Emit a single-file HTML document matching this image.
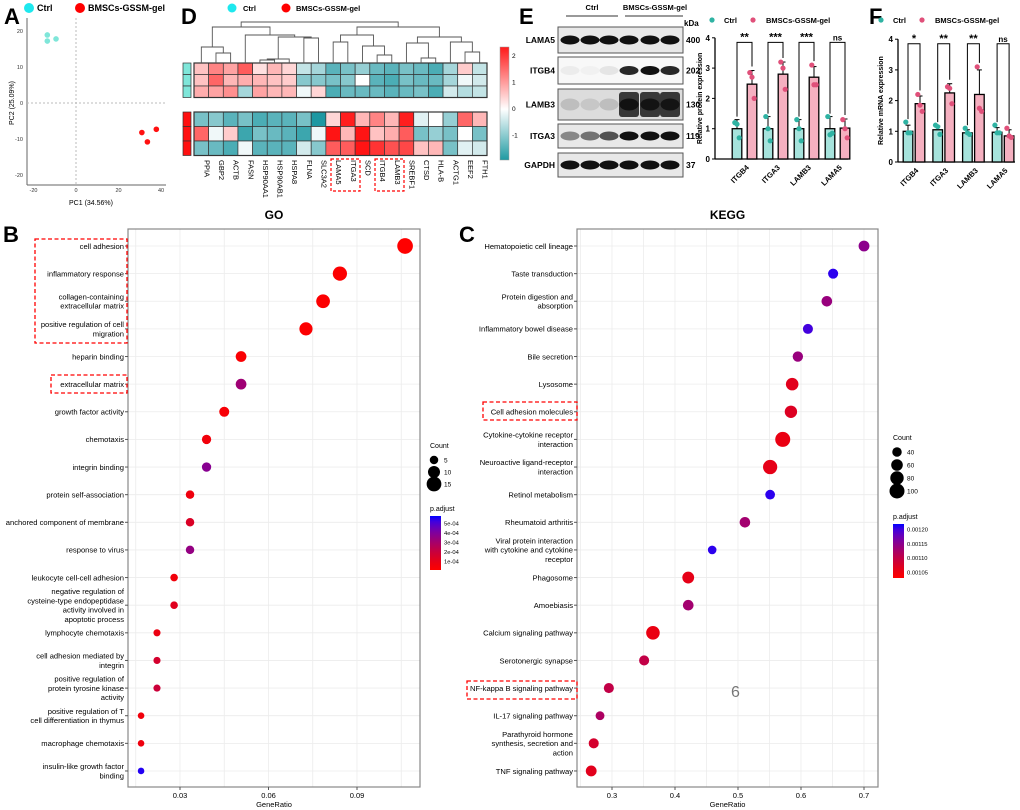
<!DOCTYPE html>
<html><head><meta charset="utf-8"><style>
body{margin:0;background:#fff;}
svg{display:block;font-family:"Liberation Sans",Arial,sans-serif;}
</style></head><body>
<svg id="fig" width="1020" height="810" viewBox="0 0 1020 810"></svg>
<script>
// ---------- DATA ----------
const pcaCtrlX=[-13.5,-13.5,-9.4];
const pcaCtrlY=[18.9,17.2,17.8];
const pcaGelX=[31,33.6,37.8];
const pcaGelY=[-8.2,-10.8,-7.3];
const pcaXTicks=[-20,0,20,40];
const pcaYTicks=[20,10,0,-10,-20];
const heatGenes=["PPIA","GBP2","ACTB","FASN","HSP90AA1","HSP90AB1","HSPA8","FLNA","SLC3A2","LAMA5","ITGA3","SCD","ITGB4","LAMB3","SREBF1","CTSD","HLA-B","ACTG1","EEF2","FTH1"];
const heatCtrl1=[0.6,1.2,0.9,1.6,0.3,0.7,0.4,-0.4,-0.6,-1.1,-0.9,-0.7,-1.0,-1.1,-0.9,-1.0,-1.2,-0.6,0.5,-0.4];
const heatCtrl2=[0.6,1.5,0.7,0.8,0.7,0.6,0.5,-0.8,-0.8,-0.9,-0.8,0.0,-1.1,-1.2,-0.9,-1.0,-1.0,-0.6,-0.1,-0.3];
const heatCtrl3=[0.8,0.9,1.1,-0.6,0.9,0.7,0.7,-0.1,0.4,-1.2,-1.0,-1.0,-1.0,-1.1,-1.0,-0.9,-1.2,-0.3,-0.5,-0.4];
const heatGel1=[-0.9,-0.8,-1.1,-0.9,-1.2,-1.1,-1.1,-0.9,-1.5,0.4,2.2,0.7,1.2,0.7,2.2,-0.2,0.0,-0.7,1.5,0.7];
const heatGel2=[1.5,-0.1,0.5,-1.3,-0.9,-1.0,-1.1,-1.3,-0.1,2.3,0.7,2.4,0.6,0.8,1.6,-0.9,-0.7,-0.9,0.0,-0.9];
const heatGel3=[-0.9,-1.0,-1.2,-0.1,-1.1,-1.1,-1.1,-0.3,-0.8,1.6,1.6,2.3,2.0,1.7,1.8,0.6,0.7,-0.9,-0.2,-0.3];
const heatScaleTicks=[2,1,0,-1];
const protCats=["ITGB4","ITGA3","LAMB3","LAMA5"];
const protCtrlMean=[1.0,1.0,1.0,1.0];
const protCtrlErr=[0.3,0.4,0.3,0.4];
const protGelMean=[2.47,2.8,2.7,1.02];
const protGelErr=[0.45,0.4,0.35,0.3];
const protCtrlPts=[[1.2,1.15,0.7],[1.4,1.0,0.6],[1.3,1.0,0.6],[1.4,0.8,0.85]];
const protGelPts=[[2.85,2.7,2.0],[3.2,3.0,2.3],[3.1,2.45,2.45],[1.3,1.0,0.7]];
const protSig=["**","***","***","ns"];
const barYTicks=[0,1,2,3,4];
const blotNames=["LAMA5","ITGB4","LAMB3","ITGA3","GAPDH"];
const blotKDa=["400","202","130","119","37"];
const mrnaCats=["ITGB4","ITGA3","LAMB3","LAMA5"];
const mrnaCtrlMean=[1.0,1.05,0.95,0.97];
const mrnaCtrlErr=[0.2,0.12,0.1,0.15];
const mrnaGelMean=[1.9,2.25,2.2,0.85];
const mrnaGelErr=[0.25,0.3,0.8,0.2];
const mrnaCtrlPts=[[1.3,0.95,0.95],[1.2,1.15,0.9],[1.1,0.95,0.9],[1.2,0.95,0.95]];
const mrnaGelPts=[[2.2,1.85,1.65],[2.45,2.4,1.9],[3.1,1.75,1.65],[1.1,0.85,0.8]];
const mrnaSig=["*","**","**","ns"];
const goTerms=[["cell adhesion"],["inflammatory response"],["collagen-containing","extracellular matrix"],["positive regulation of cell","migration"],["heparin binding"],["extracellular matrix"],["growth factor activity"],["chemotaxis"],["integrin binding"],["protein self-association"],["anchored component of membrane"],["response to virus"],["leukocyte cell-cell adhesion"],["negative regulation of","cysteine-type endopeptidase","activity involved in","apoptotic process"],["lymphocyte chemotaxis"],["cell adhesion mediated by","integrin"],["positive regulation of","protein tyrosine kinase","activity"],["positive regulation of T","cell differentiation in thymus"],["macrophage chemotaxis"],["insulin-like growth factor","binding"]];
const goRatio=[0.1063,0.0842,0.0785,0.0727,0.0507,0.0507,0.045,0.039,0.039,0.0334,0.0334,0.0334,0.028,0.028,0.0222,0.0222,0.0222,0.0168,0.0168,0.0168];
const goCount=[17,14,13,12,8,8,7,6,6,5,5,5,4,4,3.5,3.5,3.5,3,3,3];
const goPadj=[0.00001,0.00002,0.00002,0.00002,0.00003,0.00032,0.00004,0.00006,0.00038,0.00007,0.00014,0.00035,0.00006,0.00012,0.00008,0.00016,0.00019,0.00006,0.00007,0.00056];
const goXTicks=[0.03,0.06,0.09];
const goSizeLegend=[5,10,15];
const goColorTicks=[0.0005,0.0004,0.0003,0.0002,0.0001];
const goColorLabels=["5e-04","4e-04","3e-04","2e-04","1e-04"];
const keggTerms=[["Hematopoietic cell lineage"],["Taste transduction"],["Protein digestion and","absorption"],["Inflammatory bowel disease"],["Bile secretion"],["Lysosome"],["Cell adhesion molecules"],["Cytokine-cytokine receptor","interaction"],["Neuroactive ligand-receptor","interaction"],["Retinol metabolism"],["Rheumatoid arthritis"],["Viral protein interaction","with cytokine and cytokine","receptor"],["Phagosome"],["Amoebiasis"],["Calcium signaling pathway"],["Serotonergic synapse"],["NF-kappa B signaling pathway"],["IL-17 signaling pathway"],["Parathyroid hormone","synthesis, secretion and","action"],["TNF signaling pathway"]];
const keggRatio=[0.70,0.651,0.641,0.611,0.595,0.586,0.584,0.571,0.551,0.551,0.511,0.459,0.421,0.421,0.365,0.351,0.295,0.281,0.271,0.267];
const keggCount=[52,45,50,45,48,70,68,100,90,42,50,33,62,50,82,45,45,35,45,52];
const keggPadj=[0.001150,0.001210,0.001140,0.001200,0.001140,0.001065,0.001070,0.001055,0.001060,0.001210,0.001130,0.001210,0.001060,0.001130,0.001055,0.001100,0.001100,0.001120,0.001080,0.001065];
const keggXTicks=[0.3,0.4,0.5,0.6,0.7];
const keggSizeLegend=[40,60,80,100];
const keggColorTicks=[0.00120,0.00115,0.00110,0.00105];
const keggColorLabels=["0.00120","0.00115","0.00110","0.00105"];

// ---------- HELPERS ----------
const svg=document.getElementById('fig');
const NS='http://www.w3.org/2000/svg';
function mk(tag,attrs,parent,txt){const e=document.createElementNS(NS,tag);for(const k in attrs)e.setAttribute(k,attrs[k]);if(txt!==undefined)e.textContent=txt;(parent||svg).appendChild(e);return e;}
function grp(name){const g=mk('g',{});return g;}
function lin(a,b,t){return a+(b-a)*t;}
function padjColor(t){t=Math.max(0,Math.min(1,t));const r=Math.round(255*Math.pow(1-t,0.6)),b=Math.round(255*Math.pow(t,1.3));return `rgb(${r},0,${b})`;}

// ---------- PANEL LABELS ----------
[["A",4,24],["D",181,24],["E",519,24],["F",869,24],["B",3,242],["C",459,242]].forEach(p=>{const t=mk('text',{x:p[1],y:p[2],'font-size':22,'font-weight':'bold'},svg,p[0]);});

// ---------- PANEL A ----------
(function(){
const g=grp('pca-plot');
const xs=v=>76+v*(161-76)/40, ys=v=>103-v*3.6;
mk('line',{x1:27,y1:18,x2:27,y2:185,stroke:'#666','stroke-width':1},g);
mk('line',{x1:27,y1:185,x2:166,y2:185,stroke:'#666','stroke-width':1},g);
mk('line',{x1:xs(0),y1:18,x2:xs(0),y2:185,stroke:'#bbb','stroke-dasharray':'2,2'},g);
mk('line',{x1:27,y1:ys(0),x2:166,y2:ys(0),stroke:'#bbb','stroke-dasharray':'2,2'},g);
pcaYTicks.forEach(v=>{mk('text',{x:23,y:ys(v)+2,'font-size':5.5,'text-anchor':'end',fill:'#333'},g,v);});
pcaXTicks.forEach(v=>{mk('text',{x:xs(v),y:192,'font-size':5.5,'text-anchor':'middle',fill:'#333'},g,v);});
mk('text',{x:xs(0)+15,y:205,'font-size':7,'text-anchor':'middle'},g,'PC1 (34.56%)');
mk('text',{x:0,y:0,'font-size':7,'text-anchor':'middle',transform:'translate(14,103) rotate(-90)'},g,'PC2 (25.09%)');
pcaCtrlX.forEach((x,i)=>{const c=mk('circle',{cx:xs(x),cy:ys(pcaCtrlY[i]),r:2.8,fill:'#7fe6d9'},g);});
pcaGelX.forEach((x,i)=>{const c=mk('circle',{cx:xs(x),cy:ys(pcaGelY[i]),r:2.8,fill:'#ff1010'},g);});
const lg=grp('pca-legend');g.appendChild(lg);
mk('circle',{cx:29,cy:8,r:5,fill:'#1ee8ee'},lg);mk('text',{x:37,y:11,'font-size':9,'font-weight':'bold'},lg,'Ctrl');
mk('circle',{cx:80,cy:8,r:5,fill:'#ff0000'},lg);mk('text',{x:88,y:11,'font-size':9,'font-weight':'bold'},lg,'BMSCs-GSSM-gel');
})();

// ---------- PANEL D ----------
(function(){
const g=grp('heatmap');
const x0=194,cw=14.65;
const cx=i=>x0+cw*(i+0.5);
function col(v){if(v>=0){const t=Math.min(1,v/2.3);return `rgb(255,${Math.round(lin(255,20,t))},${Math.round(lin(255,20,t))})`;}const t=Math.min(1,-v/1.5);return `rgb(${Math.round(lin(255,30,t))},${Math.round(lin(255,152,t))},${Math.round(lin(255,162,t))})`;}
const rows=[heatCtrl1,heatCtrl2,heatCtrl3,heatGel1,heatGel2,heatGel3];
const rowY=[63,74.5,86,112,126.5,141], rowH=[11.5,11.5,11.5,14.5,14.5,14.5];
rows.forEach((r,ri)=>r.forEach((v,ci)=>{const c=mk('rect',{x:x0+cw*ci,y:rowY[ri],width:cw,height:rowH[ri],fill:col(v),stroke:'#333','stroke-width':0.7},g);}));
mk('rect',{x:x0,y:63,width:cw*20,height:34.5,fill:'none',stroke:'#333','stroke-width':1.2},g);
mk('rect',{x:x0,y:112,width:cw*20,height:43.5,fill:'none',stroke:'#333','stroke-width':1.2},g);
for(let i=0;i<3;i++){mk('rect',{x:183,y:rowY[i],width:8,height:rowH[i],fill:'#7fe6d9',stroke:'#333','stroke-width':0.7},g);mk('rect',{x:183,y:rowY[i+3],width:8,height:rowH[i+3],fill:'#ff1010',stroke:'#333','stroke-width':0.7},g);}
heatGenes.forEach((n,i)=>{mk('text',{x:0,y:0,'font-size':7.5,transform:`translate(${cx(i)+3},160) rotate(90)`},g,n);});
const tree=[[[0,[1,2,53],47],[3,[[[4,5,60],6,59],[7,8,38],37],35],27],[[[9,10,42],[11,[12,13,55],46],35],[[14,[15,16,58],43],[17,[18,19,52],42],37],27],22];
function draw(n){if(typeof n==='number')return {x:cx(n),y:63};const a=draw(n[0]),b=draw(n[1]),h=n[2];mk('path',{d:`M${a.x},${a.y}V${h}H${b.x}V${b.y}`,fill:'none',stroke:'#555','stroke-width':0.9},g);return {x:(a.x+b.x)/2,y:h};}
draw(tree);
const defs=mk('defs',{});const lgd=mk('linearGradient',{id:'hg',x1:0,y1:0,x2:0,y2:1},defs);
[['0','#ff1a1a'],['0.55','#ffffff'],['1','#1f9aa2']].forEach(s=>mk('stop',{offset:s[0],'stop-color':s[1]},lgd));
const cb=mk('rect',{x:500,y:47,width:9,height:113,fill:'url(#hg)',stroke:'#999','stroke-width':0.5},g);
heatScaleTicks.forEach(v=>{mk('text',{x:512,y:109-v*26.5+2,'font-size':6.5},g,v);});
[[331,360],[375,404]].forEach(b=>{const r=mk('rect',{x:b[0],y:159,width:b[1]-b[0],height:32,fill:'none',stroke:'#f00','stroke-dasharray':'3,2','stroke-width':1.2},g);});
mk('circle',{cx:232,cy:8,r:4.5,fill:'#1ee8ee'},g);mk('text',{x:243,y:11,'font-size':7.5,'font-weight':'bold'},g,'Ctrl');
mk('circle',{cx:286,cy:8,r:4.5,fill:'#ff0000'},g);mk('text',{x:296,y:11,'font-size':7.5,'font-weight':'bold'},g,'BMSCs-GSSM-gel');
})();

// ---------- PANEL E blots ----------
(function(){
const g=grp('western-blot');
mk('text',{x:592,y:10,'font-size':7.5,'font-weight':'bold','text-anchor':'middle'},g,'Ctrl');
mk('text',{x:655,y:10,'font-size':7.5,'font-weight':'bold','text-anchor':'middle'},g,'BMSCs-GSSM-gel');
mk('line',{x1:566,y1:16,x2:618,y2:16,stroke:'#333','stroke-width':1},g);
mk('line',{x1:625,y1:16,x2:683,y2:16,stroke:'#333','stroke-width':1},g);
mk('text',{x:684,y:26,'font-size':8,'font-weight':'bold'},g,'kDa');
const boxes=[[27,53],[57,84],[89,120],[124,148],[153,177]];
const laneX=[570,590,609,629,650,670];
const inten=[[1,1,1,1,1,1],[0.05,0.03,0.08,0.9,1,0.9],[0.15,0.1,0.15,1,0.95,0.9],[0.45,0.55,0.7,1,1,1],[1,1,1,1,1,1]];
boxes.forEach((b,i)=>{
const bg=i===1?'#f8f8f8':(i===2?'#dcdcdc':'#e8e8e8');
const r=mk('rect',{x:558,y:b[0],width:125,height:b[1]-b[0],fill:bg,stroke:'#555','stroke-width':1},g);
const cy=(b[0]+b[1])/2;
laneX.forEach((x,j)=>{const v=inten[i][j];if(i===2&&j>=3){mk('rect',{x:x-10,y:b[0]+3,width:20,height:b[1]-b[0]-6,fill:'#1a1a1a',opacity:0.85,rx:3},g);}mk('ellipse',{cx:x,cy:cy,rx:9.5,ry:i===2?6:4.5,fill:'#111',opacity:v},g);});
mk('text',{x:555,y:cy+3,'font-size':8.5,'font-weight':'bold','text-anchor':'end'},g,blotNames[i]);
mk('text',{x:686,y:cy+3,'font-size':8.5,'font-weight':'bold'},g,blotKDa[i]);
});
})();

// ---------- BAR CHARTS ----------
function barChart(name,o){
const g=grp(name);
const ys=v=>o.y0-v*o.unit;
mk('line',{x1:o.ax,y1:ys(0),x2:o.ax,y2:ys(4),stroke:'#000','stroke-width':1.3},g);
mk('line',{x1:o.ax,y1:ys(0),x2:o.xend,y2:ys(0),stroke:'#000','stroke-width':1.3},g);
barYTicks.forEach(v=>{mk('line',{x1:o.ax-3,y1:ys(v),x2:o.ax,y2:ys(v),stroke:'#000'},g);mk('text',{x:o.ax-5,y:ys(v)+3,'font-size':8,'font-weight':'bold','text-anchor':'end'},g,v);});
mk('text',{x:0,y:0,'font-size':7,'font-weight':'bold','text-anchor':'middle',transform:`translate(${o.ax-o.labOff},${ys(2)}) rotate(-90)`},g,o.ylab);
o.cats.forEach((c,i)=>{
const xc=o.x1+i*o.gap, xg=xc+o.pair;
[[xc,o.cm[i],o.ce[i],o.cp[i],'#a6e3dc','#2fb3a3','ctrl'],[xg,o.gm[i],o.ge[i],o.gp[i],'#f5b0c0','#e0507a','gel']].forEach(s=>{
mk('line',{x1:s[0],y1:ys(s[1]),x2:s[0],y2:ys(s[1]+s[2]),stroke:'#000','stroke-width':1},g);
mk('line',{x1:s[0]-2.5,y1:ys(s[1]+s[2]),x2:s[0]+2.5,y2:ys(s[1]+s[2]),stroke:'#000','stroke-width':1},g);
const r=mk('rect',{x:s[0]-4.8,y:ys(s[1]),width:9.6,height:s[1]*o.unit,fill:s[4],stroke:'#000','stroke-width':1.3},g);
s[3].forEach((p,k)=>{const d=mk('circle',{cx:s[0]+(k-1)*2.2,cy:ys(p),r:2.6,fill:s[5]},g);});
});
const top=ys(3.85);
mk('path',{d:`M${xc},${ys(Math.max(...o.cp[i],o.cm[i]+o.ce[i]))-3}V${top}H${xg}V${ys(Math.max(...o.gp[i],o.gm[i]+o.ge[i]))-4}`,fill:'none',stroke:'#000','stroke-width':1},g);
mk('text',{x:(xc+xg)/2,y:top-2,'font-size':o.sig[i]==='ns'?8:11,'font-weight':'bold','text-anchor':'middle'},g,o.sig[i]);
mk('text',{x:0,y:0,'font-size':7.5,'font-weight':'bold','text-anchor':'end',transform:`translate(${(xc+xg)/2+5},${ys(0)+9}) rotate(-45)`},g,c);
});
mk('circle',{cx:o.lx,cy:20,r:2.6,fill:'#2fb3a3'},g);mk('text',{x:o.lx+12,y:23,'font-size':7.5,'font-weight':'bold'},g,'Ctrl');
mk('circle',{cx:o.lx2,cy:20,r:2.6,fill:'#e0507a'},g);mk('text',{x:o.lx2+13,y:23,'font-size':7.5,'font-weight':'bold'},g,'BMSCs-GSSM-gel');
}
barChart('protein-bar-chart',{ax:715,y0:159,unit:30.3,xend:848,x1:737,gap:31,pair:15,labOff:13,cats:protCats,cm:protCtrlMean,ce:protCtrlErr,gm:protGelMean,ge:protGelErr,cp:protCtrlPts,gp:protGelPts,sig:protSig,ylab:'Relative protein expression',lx:712,lx2:753});
barChart('mrna-bar-chart',{ax:898,y0:162,unit:30.7,xend:1015,x1:908,gap:29.7,pair:12,labOff:15,cats:mrnaCats,cm:mrnaCtrlMean,ce:mrnaCtrlErr,gm:mrnaGelMean,ge:mrnaGelErr,cp:mrnaCtrlPts,gp:mrnaGelPts,sig:mrnaSig,ylab:'Relative mRNA expression',lx:881,lx2:922});

// ---------- DOT PLOTS ----------
function dotPlot(name,o){
const g=grp(name);
const xs=v=>o.tx0+(v-o.t0)*o.ppu;
const rowY=i=>246+i*27.63;
mk('text',{x:(o.L+o.R)/2,y:219,'font-size':12,'font-weight':'bold','text-anchor':'middle'},g,o.title);
for(let v=o.gmin;v<=o.gmax+1e-9;v+=o.gstep){const x=xs(v);if(x>o.L&&x<o.R)mk('line',{x1:x,y1:229,x2:x,y2:787,stroke:'#ececec','stroke-width':0.8},g);}
o.terms.forEach((t,i)=>{mk('line',{x1:o.L,y1:rowY(i),x2:o.R,y2:rowY(i),stroke:'#ececec','stroke-width':0.8},g);});
mk('rect',{x:o.L,y:229,width:o.R-o.L,height:558,fill:'none',stroke:'#888','stroke-width':1.2},g);
o.ticks.forEach(v=>{mk('line',{x1:xs(v),y1:787,x2:xs(v),y2:790,stroke:'#555'},g);mk('text',{x:xs(v),y:798,'font-size':7.5,'text-anchor':'middle'},g,String(v));});
mk('text',{x:(o.L+o.R)/2,y:807,'font-size':7.5,'text-anchor':'middle'},g,'GeneRatio');
o.terms.forEach((t,i)=>{
const y=rowY(i);mk('line',{x1:o.L-3,y1:y,x2:o.L,y2:y,stroke:'#555'},g);
const n=t.length,y0=y-(n-1)*4.6+2.8;
t.forEach((s,k)=>mk('text',{x:o.L-4,y:y0+k*9.2,'font-size':7.6,'text-anchor':'end'},g,s));
const c=mk('circle',{cx:xs(o.ratio[i]),cy:y,r:Math.sqrt(o.count[i])*o.rk,fill:padjColor((o.padj[i]-o.pmin)/(o.pmax-o.pmin))},g);


});
o.boxes.forEach(b=>{const r=mk('rect',{x:b[0],y:b[1],width:b[2],height:b[3],fill:'none',stroke:'#f00','stroke-dasharray':'4,2.5','stroke-width':1.3},g);});
const lg=grp(name+'-legend');g.appendChild(lg);
mk('text',{x:o.lgx-4,y:o.cntY,'font-size':7},lg,'Count');
o.sizes.forEach((s,k)=>{const y=o.cntY+12+k*o.sizeStep;mk('circle',{cx:o.lgx,cy:y,r:Math.sqrt(s)*o.rk,fill:'#000'},lg);mk('text',{x:o.lgx+10,y:y+2.5,'font-size':6.5},lg,s);});
mk('text',{x:o.lgx-4,y:o.cbTop-5,'font-size':7},lg,'p.adjust');
const gid=name+'-grad';const defs=mk('defs',{},lg);const lgd=mk('linearGradient',{id:gid,x1:0,y1:0,x2:0,y2:1},defs);
for(let k=0;k<=10;k++){mk('stop',{offset:String(k/10),'stop-color':padjColor(1-k/10)},lgd);}
const cb=mk('rect',{x:o.lgx-4,y:o.cbTop,width:11,height:o.cbBot-o.cbTop,fill:`url(#${gid})`},lg);
const py=p=>o.cbBot-(p-o.pmin)/(o.pmax-o.pmin)*(o.cbBot-o.cbTop);
o.cticks.forEach((p,k)=>{mk('text',{x:o.lgx+10,y:py(p)+2,'font-size':5.8},lg,o.clabels[k]);});
}
dotPlot('go-dot-plot',{title:'GO',L:128,R:420,tx0:180,t0:0.03,ppu:88.5/0.03,gmin:0.015,gmax:0.12,gstep:0.015,terms:goTerms,ratio:goRatio,count:goCount,padj:goPadj,rk:1.9,pmin:0.00001,pmax:0.00058,ticks:goXTicks,
boxes:[[35,239,92,104],[51,375,76,18]],lgx:434,cntY:448,sizes:goSizeLegend,sizeStep:12,cbTop:516,cbBot:570,cticks:goColorTicks,clabels:goColorLabels});
dotPlot('kegg-dot-plot',{title:'KEGG',L:577,R:878,tx0:612,t0:0.3,ppu:630,gmin:0.25,gmax:0.75,gstep:0.05,terms:keggTerms,ratio:keggRatio,count:keggCount,padj:keggPadj,rk:0.75,pmin:0.00103,pmax:0.00122,ticks:keggXTicks,
boxes:[[483,402,94,18],[467,681,110,18]],lgx:897,cntY:440,sizes:keggSizeLegend,sizeStep:13,cbTop:524,cbBot:578,cticks:keggColorTicks,clabels:keggColorLabels});
const six=mk('text',{x:731,y:697,'font-size':16,fill:'#777'},svg,'6');


</script>
</body></html>
